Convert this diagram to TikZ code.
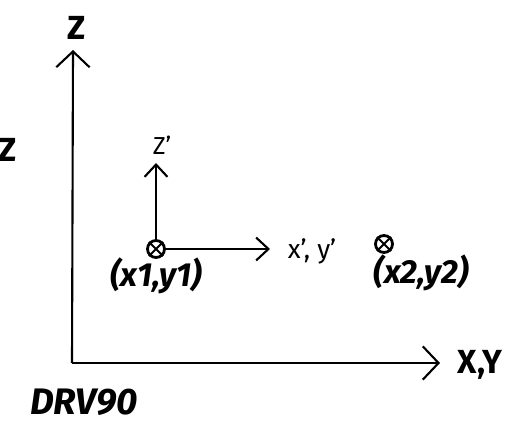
\documentclass[tikz,border=0pt]{standalone}
\usepackage{fontspec}
\setmainfont{Fira Sans}
\usetikzlibrary{arrows.meta}
\begin{document}
\begin{tikzpicture}[x=0.02cm, y=-0.02cm, line width=1.2pt,
  bigaxis/.style={-{Straight Barb[length=9pt,width=19pt,line width=1.2pt]}},
  smallaxis/.style={-{Straight Barb[length=7pt,width=13pt,line width=1.2pt]}},
  pt/.style={circle, draw, line width=1.6pt, minimum size=0.34cm, inner sep=0pt},
  lab/.style={font=\fontsize{19}{21}\selectfont\bfseries}]
  \useasboundingbox (0,0) rectangle (530,425);
  % main frame
  \coordinate (O) at (72,363);
  \coordinate (ztip) at (73,50);
  \coordinate (xtip) at (440,363);
  \draw[bigaxis] (O) -- (ztip);
  \draw[bigaxis] (O) -- (xtip);
  \node[lab] (zlab) at (77,28) {Z};
  \node[lab] (zleft) at (8,150) {Z};
  \node[lab] (xylab) at (480,365) {X,Y};
  \node[font=\fontsize{21}{23}\selectfont\bfseries\itshape] (drv) at (84,402) {DRV90};
  % local frame
  \node[pt] (p1) at (156,249) {};
  \draw (p1.north west) -- (p1.south east) (p1.north east) -- (p1.south west);
  \coordinate (zp) at (156,163);
  \coordinate (xp) at (270,249);
  \draw[smallaxis] (p1) -- (zp);
  \draw[smallaxis] (p1) -- (xp);
  \node[font=\fontsize{14}{16}\selectfont] (zplab) at (162,145) {Z'};
  \node[font=\fontsize{15}{17}\selectfont] (xplab) at (312,251) {x', y'};
  \node[font=\fontsize{19}{21}\selectfont\bfseries\itshape] (p1lab) at (156,276) {(x1,y1)};
  % second point
  \node[pt] (p2) at (384,244) {};
  \draw (p2.north west) -- (p2.south east) (p2.north east) -- (p2.south west);
  \node[font=\fontsize{19}{21}\selectfont\bfseries\itshape] (p2lab) at (421,273) {(x2,y2)};
\end{tikzpicture}
\end{document}
